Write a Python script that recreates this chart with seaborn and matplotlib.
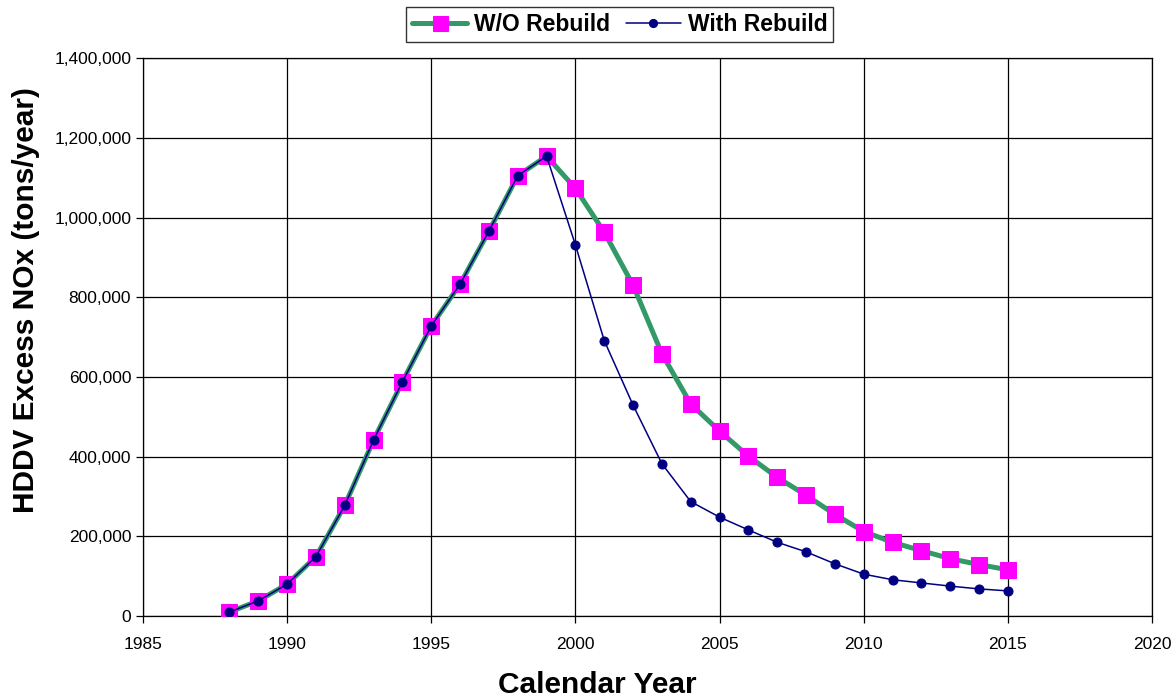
import matplotlib
matplotlib.use("Agg")
import matplotlib.pyplot as plt
import seaborn as sns
from matplotlib.ticker import FuncFormatter

years = list(range(1988, 2016))
wo_rebuild = [10000, 38000, 80000, 149000, 278000, 442000, 588000, 728000, 833000,
              966000, 1105000, 1154000, 1073000, 963000, 830000, 658000, 532000,
              464000, 401000, 348000, 303000, 255000, 212000, 185000, 164000,
              144000, 129000, 116000]
with_rebuild = [10000, 38000, 80000, 149000, 278000, 442000, 588000, 728000, 833000,
                966000, 1105000, 1154000, 931000, 691000, 529000, 382000, 287000,
                248000, 216000, 185000, 161000, 131000, 105000, 91000, 83000,
                75000, 68000, 63000]
x_ticks = [1985, 1990, 1995, 2000, 2005, 2010, 2015, 2020]
y_ticks = [0, 200000, 400000, 600000, 800000, 1000000, 1200000, 1400000]

sns.set_style("white")
plt.rcParams["font.family"] = ["Liberation Sans", "DejaVu Sans"]
plt.rcParams["text.color"] = "black"
plt.rcParams["axes.labelcolor"] = "black"


def main():
    fig = plt.figure(figsize=(11.76, 7.0), dpi=100)
    ax = fig.add_axes([0.1216, 0.12, 0.858, 0.797])

    sns.lineplot(x=years, y=wo_rebuild, ax=ax, color="#339966", linewidth=3.6,
                 marker="s", markersize=12, markerfacecolor="#FF00FF",
                 markeredgecolor="#FF00FF", label="W/O Rebuild", zorder=3)
    sns.lineplot(x=years, y=with_rebuild, ax=ax, color="#000080", linewidth=1.1,
                 marker="o", markersize=6.5, markerfacecolor="#000080",
                 markeredgecolor="#000080", label="With Rebuild", zorder=4)

    ax.set_xlim(1985, 2020)
    ax.set_ylim(0, 1400000)
    ax.set_xticks(x_ticks)
    ax.set_yticks(y_ticks)
    ax.yaxis.set_major_formatter(FuncFormatter(lambda v, p: f"{int(v):,}"))
    ax.grid(True, color="black", linewidth=0.9)
    ax.set_axisbelow(True)
    for s in ax.spines.values():
        s.set_color("black")
        s.set_linewidth(0.9)
    ax.tick_params(axis="both", direction="out", length=5, width=0.9,
                   colors="black", labelsize=12.5, left=True, bottom=True)
    ax.tick_params(axis="x", pad=10)

    ax.set_xlabel("Calendar Year", fontsize=21.5, fontweight="bold")
    ax.set_ylabel("HDDV Excess NOx (tons/year)", fontsize=21.5, fontweight="bold")
    ax.xaxis.set_label_coords(0.45, -0.098)
    ax.yaxis.set_label_coords(-0.102, 0.566)

    ax.get_legend().remove()
    handles, labels = ax.get_legend_handles_labels()
    leg = fig.legend(handles, labels, loc="upper center", bbox_to_anchor=(0.527, 1.006),
                     ncol=2, frameon=True, fancybox=False, edgecolor="black",
                     prop={"weight": "bold", "size": 16.5}, handlelength=2.4,
                     columnspacing=0.7, handletextpad=0.3, borderpad=0.25,
                     markerscale=0.9)
    leg.get_frame().set_linewidth(1.0)

    fig.savefig("out.png", dpi=100)
    plt.close(fig)


if __name__ == "__main__":
    main()
